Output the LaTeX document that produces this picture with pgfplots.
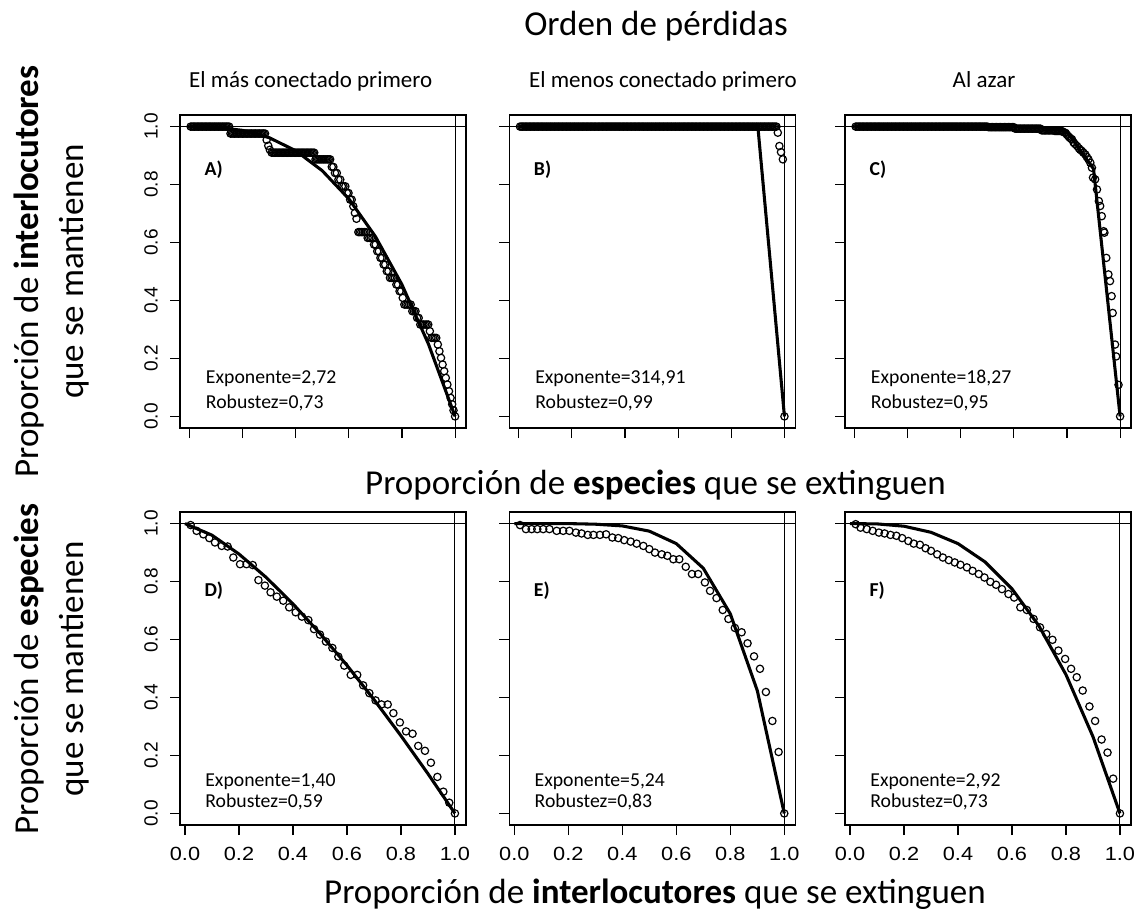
\documentclass[border=0pt]{standalone}
\usepackage{fontspec}
\setmainfont{Carlito}
\newfontfamily\tickfont{Liberation Sans}
\newfontfamily\xtickfont[FakeStretch=1.14]{Liberation Sans}
\usepackage{pgfplots}
\pgfplotsset{compat=1.18}
\pgfplotsset{
  panel/.style={scale only axis, width=214.5pt, height=234.75pt,
    xmin=-0.035, xmax=1.041, ymin=-0.04, ymax=1.04,
    axis line style={line width=0.9pt},
    tick align=outside, tick pos=left, major tick length=7.5pt,
    every tick/.style={black,line width=0.9pt},
    xtick={0,0.2,0.4,0.6,0.8,1}, ytick={0,0.2,0.4,0.6,0.8,1},
    xticklabels={}, yticklabels={}, ticklabel shift=5.7pt},
  bottomrow/.style={xmin=-0.0185, xticklabels={0.0,0.2,0.4,0.6,0.8,1.0},
    xticklabel style={font=\xtickfont\fontsize{14.3}{16}\selectfont}},
  leftcol/.style={yticklabels={0.0,0.2,0.4,0.6,0.8,1.0},
    yticklabel style={rotate=90,anchor=south,font=\tickfont\fontsize{14.3}{16}\selectfont}},
  pts/.style={only marks, mark=o, mark size=2.75pt, mark options={line width=0.9pt, black}, black},
  fit/.style={black, line width=2.3pt, line join=round, no marks},
  ab/.style={black, line width=0.8pt, no marks},
}
\newcommand{\txtfont}{\fontsize{14.8}{17}\selectfont}
\begin{document}
\begin{tikzpicture}
\useasboundingbox (0,0) rectangle (856.5pt,-686.25pt);
% ---------------- A
\begin{axis}[panel, leftcol, at={(135pt,-321pt)}, anchor=south west]
\addplot[ab] coordinates {(-0.1,1)(1.1,1)};
\addplot[ab] coordinates {(1,-0.1)(1,1.1)};
\addplot[pts] coordinates {
(0.005,1)(0.01,1)(0.015,1)(0.02,1)(0.025,1)(0.03,1)(0.035,1)(0.04,1)(0.045,1)(0.05,1)
(0.055,1)(0.06,1)(0.065,1)(0.07,1)(0.075,1)(0.08,1)(0.085,1)(0.09,1)(0.095,1)(0.1,1)
(0.105,1)(0.11,1)(0.115,1)(0.12,1)(0.125,1)(0.13,1)(0.135,1)(0.14,1)(0.145,1)(0.15,1)
(0.155,0.976)(0.16,0.976)(0.165,0.976)(0.17,0.976)(0.175,0.976)(0.18,0.976)(0.185,0.976)(0.19,0.976)(0.195,0.976)(0.2,0.976)
(0.205,0.976)(0.21,0.976)(0.215,0.976)(0.22,0.976)(0.225,0.976)(0.23,0.976)(0.235,0.976)(0.24,0.976)(0.245,0.976)(0.25,0.976)
(0.255,0.976)(0.26,0.976)(0.265,0.976)(0.27,0.976)(0.275,0.976)(0.28,0.976)(0.285,0.976)
(0.291,0.954)(0.297,0.934)(0.303,0.92)
(0.31,0.91)(0.315,0.91)(0.32,0.91)(0.325,0.91)(0.33,0.91)(0.335,0.91)(0.34,0.91)(0.345,0.91)(0.35,0.91)(0.355,0.91)
(0.36,0.91)(0.365,0.91)(0.37,0.91)(0.375,0.91)(0.38,0.91)(0.385,0.91)(0.39,0.91)(0.395,0.91)(0.4,0.91)(0.405,0.91)
(0.41,0.91)(0.415,0.91)(0.42,0.91)(0.425,0.91)(0.43,0.91)(0.435,0.91)(0.44,0.91)(0.445,0.91)(0.45,0.91)(0.455,0.91)
(0.46,0.91)(0.465,0.91)(0.47,0.91)
(0.475,0.887)(0.48,0.887)(0.485,0.887)(0.49,0.887)(0.495,0.887)(0.5,0.887)(0.505,0.887)(0.51,0.887)(0.515,0.887)(0.52,0.887)(0.525,0.887)(0.53,0.887)
(0.536,0.861)(0.542,0.861)(0.548,0.84)(0.555,0.84)(0.561,0.817)(0.568,0.817)(0.574,0.794)(0.58,0.794)(0.587,0.794)(0.593,0.771)
(0.599,0.771)(0.605,0.748)(0.611,0.748)(0.617,0.725)(0.623,0.702)(0.629,0.682)(0.636,0.636)(0.641,0.636)(0.647,0.636)(0.653,0.636)
(0.659,0.636)(0.665,0.636)(0.671,0.616)(0.677,0.616)(0.683,0.616)(0.689,0.616)(0.695,0.593)(0.701,0.593)(0.707,0.57)(0.713,0.57)
(0.719,0.547)(0.725,0.547)(0.731,0.524)(0.737,0.524)(0.743,0.501)(0.749,0.501)(0.755,0.478)(0.761,0.478)(0.767,0.478)(0.773,0.478)
(0.779,0.455)(0.785,0.455)(0.791,0.432)(0.797,0.432)(0.803,0.409)(0.809,0.386)(0.815,0.386)(0.821,0.386)(0.827,0.386)(0.833,0.386)
(0.839,0.363)(0.845,0.363)(0.851,0.363)(0.857,0.34)(0.863,0.34)(0.869,0.317)(0.875,0.317)(0.881,0.317)(0.887,0.317)(0.893,0.317)
(0.899,0.317)(0.905,0.294)(0.911,0.271)(0.917,0.271)(0.923,0.271)(0.929,0.271)(0.935,0.248)(0.941,0.225)(0.947,0.202)(0.953,0.179)
(0.959,0.156)(0.965,0.133)(0.971,0.11)(0.977,0.087)(0.983,0.064)(0.989,0.042)(0.994,0.021)(1,0)
};
\addplot[fit] coordinates {(0,1)(0.1,0.998)(0.2,0.987)(0.3,0.962)(0.4,0.917)(0.5,0.848)(0.6,0.751)(0.7,0.621)(0.8,0.455)(0.9,0.249)(1,0)};
\node[anchor=west,font=\bfseries\txtfont] at (axis cs:0.04,0.85) {A)};
\node[anchor=base west,font=\txtfont] at (axis cs:0.045,0.112) {Exponente=2,72};
\node[anchor=base west,font=\txtfont] at (axis cs:0.045,0.029) {Robustez=0,73};
\end{axis}
% ---------------- B
\begin{axis}[panel, at={(382pt,-321pt)}, anchor=south west]
\addplot[ab] coordinates {(-0.1,1)(1.1,1)};
\addplot[ab] coordinates {(1,-0.1)(1,1.1)};
\addplot[pts] coordinates {
(0.005,1)(0.01,1)(0.015,1)(0.02,1)(0.025,1)(0.03,1)(0.035,1)(0.04,1)(0.045,1)(0.05,1)
(0.055,1)(0.06,1)(0.065,1)(0.07,1)(0.075,1)(0.08,1)(0.085,1)(0.09,1)(0.095,1)(0.1,1)
(0.105,1)(0.11,1)(0.115,1)(0.12,1)(0.125,1)(0.13,1)(0.135,1)(0.14,1)(0.145,1)(0.15,1)
(0.155,1)(0.16,1)(0.165,1)(0.17,1)(0.175,1)(0.18,1)(0.185,1)(0.19,1)(0.195,1)(0.2,1)
(0.205,1)(0.21,1)(0.215,1)(0.22,1)(0.225,1)(0.23,1)(0.235,1)(0.24,1)(0.245,1)(0.25,1)
(0.255,1)(0.26,1)(0.265,1)(0.27,1)(0.275,1)(0.28,1)(0.285,1)(0.29,1)(0.295,1)(0.3,1)
(0.305,1)(0.31,1)(0.315,1)(0.32,1)(0.325,1)(0.33,1)(0.335,1)(0.34,1)(0.345,1)(0.35,1)
(0.355,1)(0.36,1)(0.365,1)(0.37,1)(0.375,1)(0.38,1)(0.385,1)(0.39,1)(0.395,1)(0.4,1)
(0.405,1)(0.41,1)(0.415,1)(0.42,1)(0.425,1)(0.43,1)(0.435,1)(0.44,1)(0.445,1)(0.45,1)
(0.455,1)(0.46,1)(0.465,1)(0.47,1)(0.475,1)(0.48,1)(0.485,1)(0.49,1)(0.495,1)(0.5,1)
(0.505,1)(0.51,1)(0.515,1)(0.52,1)(0.525,1)(0.53,1)(0.535,1)(0.54,1)(0.545,1)(0.55,1)
(0.555,1)(0.56,1)(0.565,1)(0.57,1)(0.575,1)(0.58,1)(0.585,1)(0.59,1)(0.595,1)(0.6,1)
(0.605,1)(0.61,1)(0.615,1)(0.62,1)(0.625,1)(0.63,1)(0.635,1)(0.64,1)(0.645,1)(0.65,1)
(0.655,1)(0.66,1)(0.665,1)(0.67,1)(0.675,1)(0.68,1)(0.685,1)(0.69,1)(0.695,1)(0.7,1)
(0.705,1)(0.71,1)(0.715,1)(0.72,1)(0.725,1)(0.73,1)(0.735,1)(0.74,1)(0.745,1)(0.75,1)
(0.755,1)(0.76,1)(0.765,1)(0.77,1)(0.775,1)(0.78,1)(0.785,1)(0.79,1)(0.795,1)(0.8,1)
(0.805,1)(0.81,1)(0.815,1)(0.82,1)(0.825,1)(0.83,1)(0.835,1)(0.84,1)(0.845,1)(0.85,1)
(0.855,1)(0.86,1)(0.865,1)(0.87,1)(0.875,1)(0.88,1)(0.885,1)(0.89,1)(0.895,1)(0.9,1)
(0.905,1)(0.91,1)(0.915,1)(0.92,1)(0.925,1)(0.93,1)(0.935,1)(0.94,1)(0.945,1)(0.95,1)
(0.955,1)(0.96,1)(0.965,1)(0.97,1)
(0.975,0.979)(0.981,0.933)(0.987,0.912)(0.994,0.887)(1,0)
};
\addplot[fit] coordinates {(0,1)(0.1,1)(0.2,1)(0.3,1)(0.4,1)(0.5,1)(0.6,1)(0.7,1)(0.8,1)(0.9,1)(1,0)};
\node[anchor=west,font=\bfseries\txtfont] at (axis cs:0.04,0.85) {B)};
\node[anchor=base west,font=\txtfont] at (axis cs:0.045,0.112) {Exponente=314,91};
\node[anchor=base west,font=\txtfont] at (axis cs:0.045,0.029) {Robustez=0,99};
\end{axis}
% ---------------- C
\begin{axis}[panel, at={(633.75pt,-321pt)}, anchor=south west]
\addplot[ab] coordinates {(-0.1,1)(1.1,1)};
\addplot[ab] coordinates {(1,-0.1)(1,1.1)};
\addplot[pts] coordinates {
(0.005,1)(0.01,1)(0.015,1)(0.02,1)(0.025,1)(0.03,1)(0.035,1)(0.04,1)(0.045,1)(0.05,1)
(0.055,1)(0.06,1)(0.065,1)(0.07,1)(0.075,1)(0.08,1)(0.085,1)(0.09,1)(0.095,1)(0.1,1)
(0.105,1)(0.11,1)(0.115,1)(0.12,1)(0.125,1)(0.13,1)(0.135,1)(0.14,1)(0.145,1)(0.15,1)
(0.155,1)(0.16,1)(0.165,1)(0.17,1)(0.175,1)(0.18,1)(0.185,1)(0.19,1)(0.195,1)(0.2,1)
(0.205,1)(0.21,1)(0.215,1)(0.22,1)(0.225,1)(0.23,1)(0.235,1)(0.24,1)(0.245,1)(0.25,1)
(0.255,1)(0.26,1)(0.265,1)(0.27,1)(0.275,1)(0.28,1)(0.285,1)(0.29,1)(0.295,1)(0.3,1)
(0.305,1)(0.31,1)(0.315,1)(0.32,1)(0.325,1)(0.33,1)(0.335,1)(0.34,1)(0.345,1)(0.35,1)
(0.355,1)(0.36,1)(0.365,1)(0.37,1)(0.375,1)(0.38,1)(0.385,1)(0.39,1)(0.395,1)(0.4,1)
(0.405,1)(0.41,1)(0.415,1)(0.42,1)(0.425,1)(0.43,1)(0.435,1)(0.44,1)(0.445,1)(0.45,1)
(0.455,1)(0.46,1)(0.465,1)(0.47,1)(0.475,1)(0.48,1)(0.485,1)(0.49,1)(0.495,1)(0.5,1)
(0.505,0.998)(0.51,0.998)(0.515,0.998)(0.52,0.998)(0.525,0.998)(0.53,0.998)(0.535,0.998)(0.54,0.998)(0.545,0.998)(0.55,0.998)
(0.555,0.998)(0.56,0.998)(0.565,0.998)(0.57,0.998)(0.575,0.998)(0.58,0.998)(0.585,0.998)(0.59,0.998)(0.595,0.998)(0.6,0.998)
(0.605,0.993)(0.61,0.993)(0.615,0.993)(0.62,0.993)(0.625,0.993)(0.63,0.993)(0.635,0.993)(0.64,0.993)(0.645,0.993)(0.65,0.993)
(0.655,0.993)(0.66,0.993)(0.665,0.993)(0.67,0.993)(0.675,0.993)(0.68,0.993)(0.685,0.993)(0.69,0.993)(0.695,0.993)(0.7,0.993)
(0.705,0.987)(0.71,0.987)(0.715,0.987)(0.72,0.987)(0.725,0.987)(0.73,0.987)(0.735,0.987)(0.74,0.987)(0.745,0.987)(0.75,0.987)
(0.755,0.985)(0.76,0.985)(0.765,0.985)(0.77,0.985)(0.775,0.985)(0.78,0.985)(0.785,0.982)(0.79,0.98)
(0.795,0.978)(0.8,0.972)(0.805,0.967)(0.81,0.962)(0.815,0.958)(0.819,0.956)(0.825,0.945)(0.83,0.94)(0.838,0.933)(0.845,0.925)
(0.85,0.92)(0.856,0.916)(0.862,0.91)(0.869,0.904)(0.875,0.895)(0.881,0.887)(0.888,0.875)(0.894,0.858)
(0.898,0.824)(0.906,0.818)(0.913,0.783)(0.92,0.743)(0.925,0.726)(0.931,0.691)(0.938,0.639)(0.941,0.634)(0.948,0.547)(0.956,0.49)
(0.962,0.467)(0.968,0.415)(0.972,0.357)(0.981,0.248)(0.985,0.207)(0.994,0.109)(1,0)
};
\addplot[fit] coordinates {(0,1)(0.1,1)(0.2,1)(0.3,1)(0.4,1)(0.5,1)(0.6,1)(0.7,0.9985)(0.8,0.983)(0.9,0.854)(1,0)};
\node[anchor=west,font=\bfseries\txtfont] at (axis cs:0.04,0.85) {C)};
\node[anchor=base west,font=\txtfont] at (axis cs:0.045,0.112) {Exponente=18,27};
\node[anchor=base west,font=\txtfont] at (axis cs:0.045,0.029) {Robustez=0,95};
\end{axis}
% ---------------- D
\begin{axis}[panel, bottomrow, leftcol, at={(135pt,-618.75pt)}, anchor=south west]
\addplot[ab] coordinates {(-0.1,1)(1.1,1)};
\addplot[ab] coordinates {(1,-0.1)(1,1.1)};
\addplot[pts] coordinates {
(0.021,0.995)(0.043,0.975)(0.068,0.963)(0.09,0.95)(0.111,0.935)(0.136,0.923)(0.158,0.921)(0.179,0.883)(0.204,0.86)(0.228,0.86)
(0.251,0.857)(0.272,0.805)(0.296,0.786)(0.317,0.763)(0.34,0.748)(0.364,0.734)(0.386,0.711)(0.41,0.694)(0.433,0.679)(0.457,0.667)
(0.478,0.636)(0.5,0.617)(0.522,0.593)(0.546,0.571)(0.568,0.541)(0.59,0.51)(0.614,0.478)(0.638,0.478)(0.66,0.442)(0.683,0.415)
(0.706,0.39)(0.728,0.376)(0.751,0.376)(0.772,0.346)(0.796,0.314)(0.819,0.283)(0.843,0.275)(0.864,0.233)(0.889,0.216)(0.911,0.175)
(0.935,0.126)(0.957,0.075)(0.979,0.037)(1,0)
};
\addplot[fit] coordinates {(0,1)(0.1,0.96)(0.2,0.895)(0.3,0.815)(0.4,0.723)(0.5,0.621)(0.6,0.511)(0.7,0.393)(0.8,0.268)(0.9,0.137)(1,0)};
\node[anchor=west,font=\bfseries\txtfont] at (axis cs:0.055,0.77) {D)};
\node[anchor=base west,font=\txtfont] at (axis cs:0.058,0.094) {Exponente=1,40};
\node[anchor=base west,font=\txtfont] at (axis cs:0.058,0.0195) {Robustez=0,59};
\end{axis}
% ---------------- E
\begin{axis}[panel, bottomrow, at={(382pt,-618.75pt)}, anchor=south west]
\addplot[ab] coordinates {(-0.1,1)(1.1,1)};
\addplot[ab] coordinates {(1,-0.1)(1,1.1)};
\addplot[pts] coordinates {
(0.021,0.995)(0.043,0.981)(0.064,0.981)(0.085,0.981)(0.107,0.981)(0.13,0.981)(0.157,0.975)(0.181,0.975)(0.204,0.975)(0.228,0.969)
(0.249,0.966)(0.272,0.961)(0.293,0.961)(0.317,0.961)(0.34,0.963)(0.363,0.952)(0.385,0.95)(0.407,0.943)(0.431,0.938)(0.453,0.931)
(0.478,0.923)(0.5,0.912)(0.521,0.9)(0.546,0.894)(0.567,0.889)(0.589,0.877)(0.611,0.877)(0.635,0.851)(0.658,0.826)(0.681,0.826)
(0.706,0.797)(0.725,0.768)(0.749,0.743)(0.772,0.702)(0.793,0.671)(0.817,0.64)(0.842,0.625)(0.864,0.587)(0.888,0.542)(0.91,0.499)
(0.932,0.419)(0.956,0.319)(0.979,0.212)(1,0)
};
\addplot[fit] coordinates {(0,1)(0.1,1)(0.2,1)(0.3,0.998)(0.4,0.992)(0.5,0.974)(0.6,0.931)(0.7,0.846)(0.8,0.689)(0.9,0.424)(1,0)};
\node[anchor=west,font=\bfseries\txtfont] at (axis cs:0.055,0.77) {E)};
\node[anchor=base west,font=\txtfont] at (axis cs:0.058,0.094) {Exponente=5,24};
\node[anchor=base west,font=\txtfont] at (axis cs:0.058,0.0195) {Robustez=0,83};
\end{axis}
% ---------------- F
\begin{axis}[panel, bottomrow, at={(633.75pt,-618.75pt)}, anchor=south west]
\addplot[ab] coordinates {(-0.1,1)(1.1,1)};
\addplot[ab] coordinates {(1,-0.1)(1,1.1)};
\addplot[pts] coordinates {
(0.021,0.998)(0.039,0.986)(0.062,0.981)(0.084,0.975)(0.107,0.969)(0.128,0.966)(0.15,0.961)(0.172,0.958)(0.193,0.95)(0.216,0.94)
(0.236,0.931)(0.259,0.927)(0.28,0.915)(0.3,0.906)(0.323,0.894)(0.344,0.883)(0.366,0.874)(0.388,0.866)(0.409,0.858)(0.433,0.849)
(0.454,0.837)(0.477,0.826)(0.498,0.814)(0.52,0.799)(0.541,0.789)(0.563,0.774)(0.587,0.757)(0.608,0.745)(0.631,0.711)(0.655,0.702)
(0.68,0.671)(0.704,0.642)(0.727,0.619)(0.75,0.599)(0.772,0.562)(0.797,0.533)(0.819,0.499)(0.84,0.47)(0.862,0.424)(0.887,0.369)
(0.908,0.319)(0.932,0.255)(0.954,0.21)(0.975,0.12)(1,0)
};
\addplot[fit] coordinates {(0,1)(0.1,0.999)(0.2,0.991)(0.3,0.97)(0.4,0.931)(0.5,0.868)(0.6,0.775)(0.7,0.647)(0.8,0.479)(0.9,0.265)(1,0)};
\node[anchor=west,font=\bfseries\txtfont] at (axis cs:0.055,0.77) {F)};
\node[anchor=base west,font=\txtfont] at (axis cs:0.058,0.094) {Exponente=2,92};
\node[anchor=base west,font=\txtfont] at (axis cs:0.058,0.0195) {Robustez=0,73};
\end{axis}
% ---------------- texts
\node[anchor=base,font=\fontsize{26.25}{31}\selectfont] at (492pt,-26.25pt) {Orden de pérdidas};
\node[anchor=base,font=\fontsize{17.25}{20}\selectfont] at (233pt,-65.25pt) {El más conectado primero};
\node[anchor=base,font=\fontsize{17.25}{20}\selectfont] at (497.25pt,-65.25pt) {El menos conectado primero};
\node[anchor=base,font=\fontsize{17.25}{20}\selectfont] at (738pt,-65.25pt) {Al azar};
\node[anchor=base,font=\fontsize{26.25}{31}\selectfont] at (491.6pt,-370.5pt) {Proporción de \textbf{especies} que se extinguen};
\node[anchor=base,font=\fontsize{26.25}{31}\selectfont] at (491.25pt,-677.25pt) {Proporción de \textbf{interlocutores} que se extinguen};
\node[anchor=base,rotate=90,font=\fontsize{26.25}{31}\selectfont] at (28.5pt,-203.6pt) {Proporción de \textbf{interlocutores}};
\node[anchor=base,rotate=90,font=\fontsize{26.25}{31}\selectfont] at (62.25pt,-203.6pt) {que se mantienen};
\node[anchor=base,rotate=90,font=\fontsize{26.25}{31}\selectfont] at (28.5pt,-501.75pt) {Proporción de \textbf{especies}};
\node[anchor=base,rotate=90,font=\fontsize{26.25}{31}\selectfont] at (62.25pt,-501.75pt) {que se mantienen};
\end{tikzpicture}
\end{document}
